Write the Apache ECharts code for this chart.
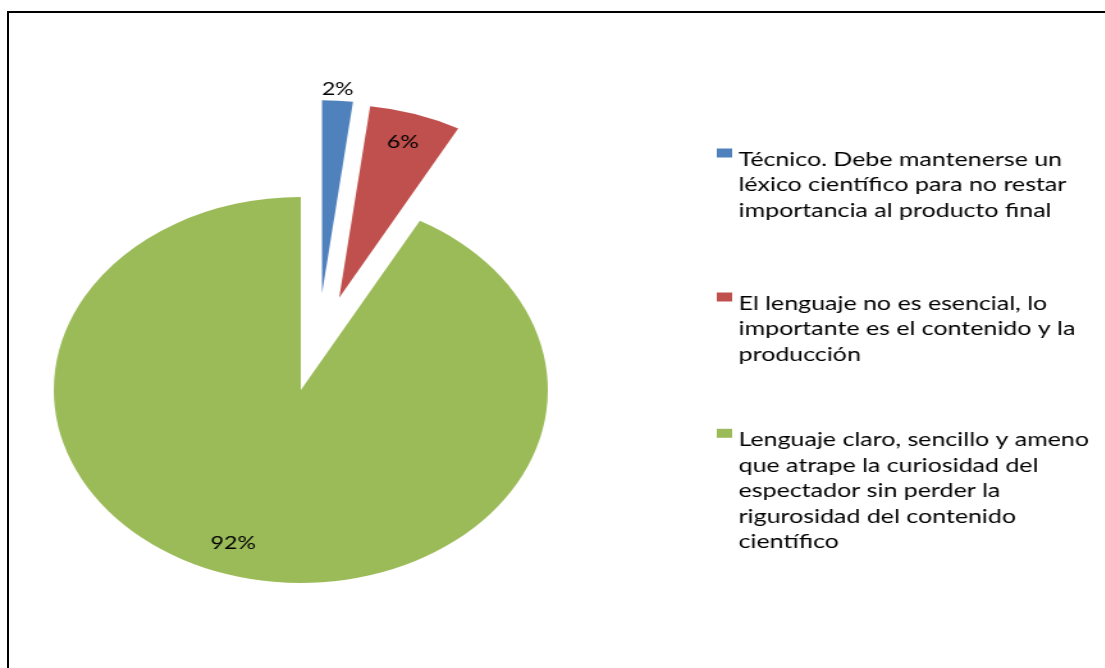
<!DOCTYPE html>
<html><head><meta charset="utf-8">
<script src="https://cdn.jsdelivr.net/npm/echarts@6/dist/echarts.min.js"></script>
<style>
html,body{margin:0;padding:0;background:#fff;overflow:hidden;width:1105px;height:668px;}
#frame{position:absolute;left:7px;top:11px;width:1200px;height:700px;border-top:2px solid #000;border-left:2px solid #000;pointer-events:none;}
#chart{position:absolute;left:0;top:0;width:864px;height:668px;transform:scaleX(1.28);transform-origin:0 0;}
</style></head><body>
<div id="chart"></div><div id="frame"></div>
<script>
// ---- data ----
const categories = [
  'Técnico. Debe mantenerse un\nléxico científico para no restar\nimportancia al producto final',
  'El lenguaje no es esencial, lo\nimportante es el contenido y la\nproducción',
  'Lenguaje claro, sencillo y ameno\nque atrape la curiosidad del\nespectador sin perder la\nrigurosidad del contenido\ncientífico'
];
const values = [2, 6, 92];
const exploded = [true, true, false];

// ---- styles / layout ----
const colors = ['#4F81BD', '#C0504D', '#9BBB59'];
const FONT = 'Lato, "Open Sans", sans-serif';
const lineH = 25.6;
const legendFont = 19.5;
const iconCenters = [152.5, 296.5, 432.8];
const labelShift = [[6, -105], [19, -61], [-28, 57]];

function pieData(visible) {
  return categories.map((name, i) => ({
    name: name,
    value: values[i],
    selected: exploded[i],
    itemStyle: { color: colors[i], opacity: visible.includes(i) ? 1 : 0 },
    label: { show: visible.includes(i) }
  }));
}

function pieSeries(center, visible) {
  return {
    type: 'pie',
    center: center,
    radius: 193,
    startAngle: 90,
    clockwise: true,
    selectedMode: 'multiple',
    selectedOffset: 97,
    silent: true,
    animation: false,
    avoidLabelOverlap: false,
    emphasis: { disabled: true },
    itemStyle: { borderWidth: 0 },
    labelLine: { show: false },
    label: {
      position: 'inside',
      formatter: '{c}%',
      color: '#000',
      fontFamily: FONT,
      fontSize: 18
    },
    labelLayout: function (p) {
      return { dx: labelShift[p.dataIndex][0], dy: labelShift[p.dataIndex][1] };
    },
    data: pieData(visible)
  };
}

// Legend: first text line aligned beside the key (like the original), via a leading spacer line
function legendFor(name, i) {
  const lines = name.split('\n');
  const n = lines.length;
  const pre = (n - 1) * lineH + 13;
  const H = pre + n * lineH;
  const rectTop = iconCenters[i] - H / 2 + pre / 2;
  return {
    orient: 'vertical',
    left: 560,
    top: rectTop,
    padding: 0,
    itemWidth: 12,
    itemHeight: 9,
    itemGap: 0,
    icon: 'rect',
    selectedMode: false,
    formatter: function () {
      return '{g| }\n' + lines.map(l => '{t|' + l + '}').join('\n');
    },
    textStyle: {
      fontFamily: FONT, fontSize: legendFont, color: '#000',
      rich: {
        g: { lineHeight: pre, fontSize: 1, fontFamily: FONT },
        t: { lineHeight: lineH, fontSize: legendFont, fontFamily: FONT, color: '#000' }
      }
    },
    data: [{ name: name, itemStyle: { color: colors[i], opacity: 1, borderWidth: 0 } }]
  };
}

const chart = echarts.init(document.getElementById('chart'), null, { renderer: 'canvas' });
chart.setOption({
  animation: false,
  backgroundColor: 'transparent',
  legend: categories.map(legendFor),
  series: [
    pieSeries([235, 390], [1, 2]),
    pieSeries([245.5, 390], [0])
  ]
});
</script>
</body></html>
